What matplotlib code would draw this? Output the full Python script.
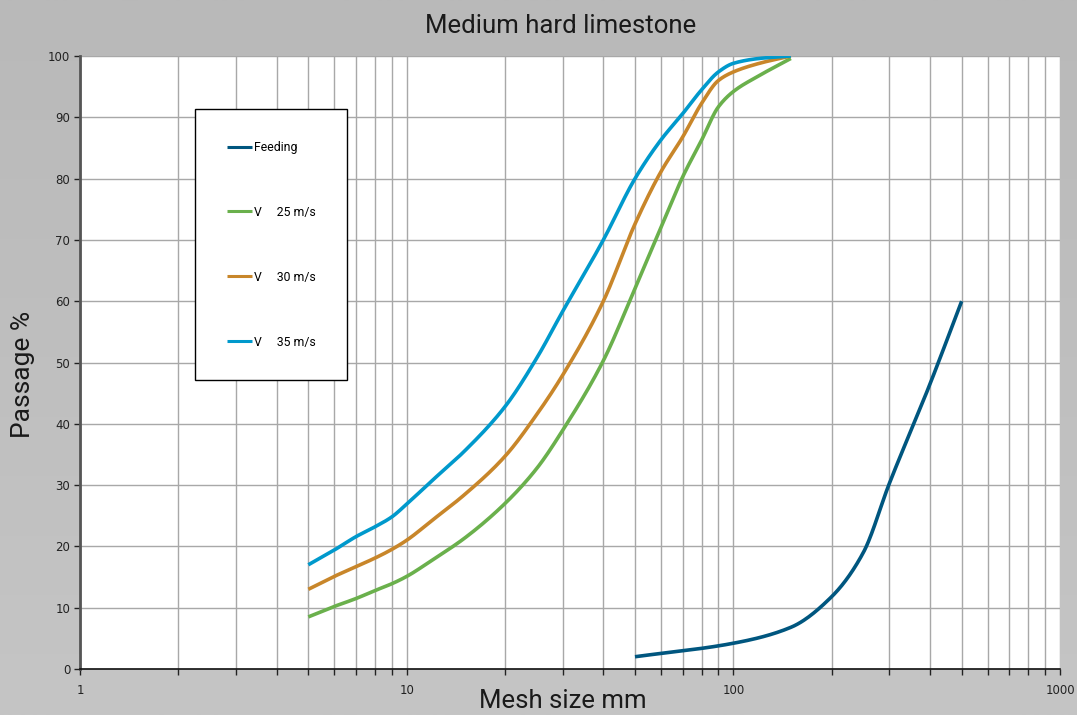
import numpy as np
import matplotlib
matplotlib.use("Agg")
import matplotlib.pyplot as plt
from matplotlib.ticker import LogLocator, FixedLocator, NullFormatter

# values
feed_x = [50, 100, 150, 200, 250, 300, 400, 500]
feed_y = [2.0, 4.2, 6.8, 11.8, 19.0, 30.2, 46.5, 60.0]

mesh = [5, 6, 7, 8, 9, 10, 12, 15, 20, 25, 30, 40, 50, 60, 70, 80, 90, 100, 120, 150]
v25 = [8.5, 10.2, 11.5, 12.8, 13.9, 15.1, 17.8, 21.3, 27.0, 32.7, 38.9, 50.3, 62.1,
       72.0, 80.3, 86.3, 91.7, 94.2, 96.8, 99.6]
v30 = [13.0, 15.1, 16.7, 18.1, 19.5, 21.0, 24.3, 28.4, 34.7, 41.5, 47.9, 60.0, 72.6,
       81.1, 86.8, 92.3, 96.0, 97.4, 98.8, 100.0]
v35 = [17.0, 19.4, 21.6, 23.2, 24.8, 26.9, 30.8, 35.5, 42.8, 50.7, 58.3, 70.0, 80.0,
       86.3, 90.6, 94.5, 97.4, 98.8, 99.6, 100.0]

labels = ["Feeding", "V     25 m/s", "V     30 m/s", "V     35 m/s"]
colors = ["#00567f", "#6ab04c", "#c8862a", "#0099cc"]


def smooth(xs, ys, n=25):
    # monotone cubic (fritsch-carlson) through the points in log-x space
    x = np.log10(xs)
    y = np.asarray(ys, float)
    h = np.diff(x)
    d = np.diff(y) / h
    m = np.zeros_like(y)
    m[0], m[-1] = d[0], d[-1]
    for i in range(1, len(y)-1):
        if d[i-1]*d[i] > 0:
            w1, w2 = 2*h[i] + h[i-1], h[i] + 2*h[i-1]
            m[i] = (w1 + w2) / (w1/d[i-1] + w2/d[i])
    ox, oy = [], []
    t = np.linspace(0, 1, n, endpoint=False)
    for i in range(len(h)):
        h00 = 2*t**3 - 3*t**2 + 1
        h10 = t**3 - 2*t**2 + t
        h01 = -2*t**3 + 3*t**2
        h11 = t**3 - t**2
        ox.extend(x[i] + t*h[i])
        oy.extend(h00*y[i] + h10*h[i]*m[i] + h01*y[i+1] + h11*h[i]*m[i+1])
    ox.append(x[-1])
    oy.append(y[-1])
    return 10**np.array(ox), np.array(oy)


fig = plt.figure(figsize=(10.77, 7.15), dpi=100)

# grey gradient background
bg = fig.add_axes([0, 0, 1, 1], zorder=-10)
grad = np.linspace(0, 1, 256).reshape(-1, 1)
bg.imshow(grad, aspect="auto", cmap=matplotlib.colors.LinearSegmentedColormap.from_list(
    "g", ["#b9b9b9", "#c5c5c5"]), extent=[0, 1, 0, 1], origin="upper")
bg.axis("off")

ax = fig.add_axes([80/1077, 1-669/715, 980/1077, 613/715])
ax.set_facecolor("white")

series = [(feed_x, feed_y), (mesh, v25), (mesh, v30), (mesh, v35)]
for (xs, ys), lab, col in zip(series, labels, colors):
    sx, sy = smooth(xs, ys)
    ax.plot(sx, sy, color=col, lw=2.6, label=lab, solid_capstyle="butt")

ax.set_xscale("log")
ax.set_xlim(1, 1000)
ax.set_ylim(0, 100)
ax.xaxis.set_major_locator(FixedLocator([1, 10, 100, 1000]))
ax.xaxis.set_major_formatter(matplotlib.ticker.FuncFormatter(lambda v, p: "%d" % v))
ax.xaxis.set_minor_locator(LogLocator(base=10, subs=np.arange(2, 10), numticks=20))
ax.xaxis.set_minor_formatter(NullFormatter())
ax.set_yticks(np.arange(0, 101, 10))

ax.grid(True, which="both", axis="x", color="#a8a8a8", lw=1)
ax.grid(True, which="major", axis="y", color="#a8a8a8", lw=1)
ax.set_axisbelow(True)

for s in ["top", "right"]:
    ax.spines[s].set_visible(False)
ax.spines["left"].set_color("#555555")
ax.spines["left"].set_linewidth(2)
ax.spines["bottom"].set_color("#111111")
ax.spines["bottom"].set_linewidth(1.2)

ax.tick_params(axis="both", which="both", direction="out", length=4, width=1,
               colors="#222222", labelsize=8.5)
ax.tick_params(axis="x", which="major", pad=7)
ax.tick_params(axis="y", pad=3)

ax.text(0.49, 1.0375, "Medium hard limestone", transform=ax.transAxes, ha="center",
        va="baseline", fontsize=18.5, family="Roboto", color="#1a1a1a")
ax.set_xlabel("Mesh size mm", fontsize=18.5, family="Roboto", color="#1a1a1a",
              va="baseline")
ax.xaxis.set_label_coords(0.493, -0.064)
ax.set_ylabel("Passage %", fontsize=19, family="Roboto", color="#1a1a1a", va="center")
ax.yaxis.set_label_coords(-0.058, 0.48)

leg = ax.legend(loc="upper left", bbox_to_anchor=(115/980, 560/613), borderaxespad=0,
                frameon=True, fancybox=False, framealpha=1, edgecolor="black",
                prop={"family": "Roboto", "size": 8.8}, labelspacing=4.25,
                borderpad=2.6, handlelength=2.1, handletextpad=0.1)
leg.get_frame().set_linewidth(1)
for h in leg.get_lines():
    h.set_linewidth(2.2)

fig.savefig("out.png", dpi=100)
